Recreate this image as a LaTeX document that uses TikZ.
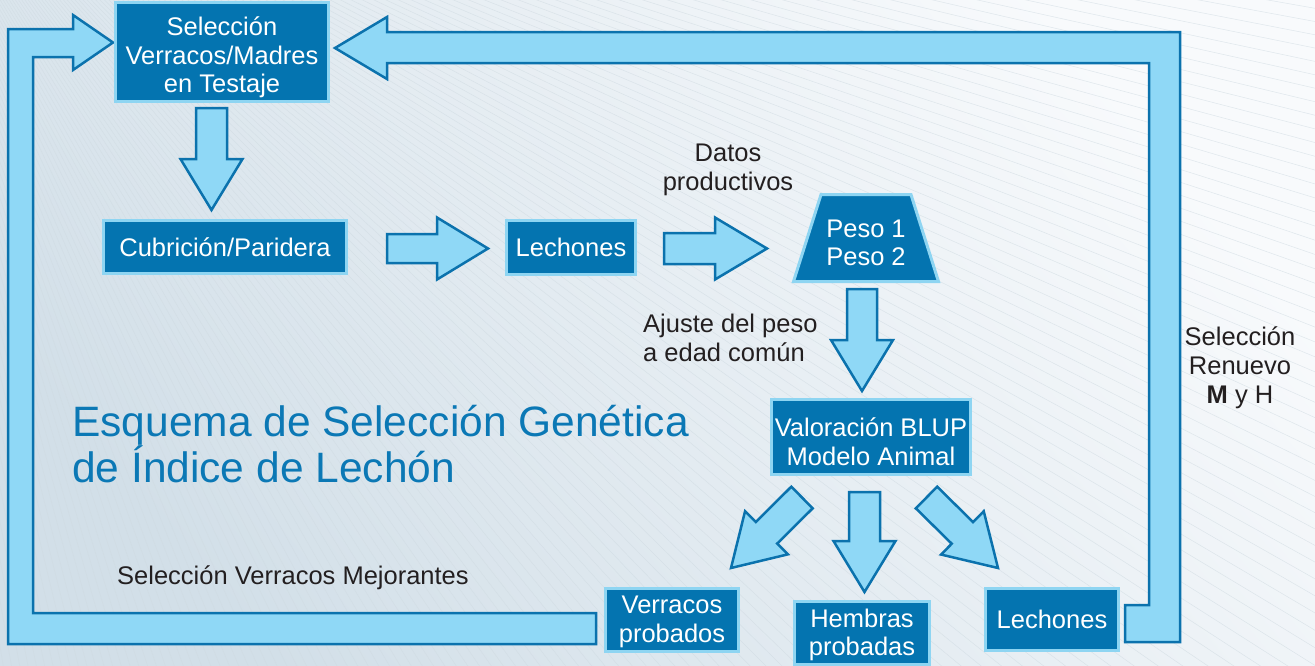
\documentclass[tikz,border=0pt]{standalone}
\usepackage{fontspec}
\setmainfont{Liberation Sans}
\usetikzlibrary{calc,shapes.geometric}
\definecolor{boxblue}{HTML}{0474B0}
\definecolor{boxedge}{HTML}{8ED5F2}
\definecolor{arrfill}{HTML}{8FD8F6}
\definecolor{arrline}{HTML}{0B72AD}
\definecolor{titleblue}{HTML}{0B78B5}
\definecolor{labeltext}{HTML}{231F20}
\definecolor{bgdark}{HTML}{D2DFE8}
\definecolor{bglight}{HTML}{F8FAFC}
\definecolor{fanline}{HTML}{CFDAE1}
\newcommand{\blockarr}[5]{%
  \coordinate (bh) at ($(#2)!#5!(#1)$);
  \draw[barrow] ($(#1)!#3!90:(#2)$) -- ($(bh)!#3!90:(#2)$) -- ($(bh)!#4!90:(#2)$)
    -- (#2) -- ($(bh)!#4!-90:(#2)$) -- ($(bh)!#3!-90:(#2)$) -- ($(#1)!#3!-90:(#2)$) -- cycle;}
% #1 = extra height added on top (twice the downward shift of the text)
\newcommand{\mlines}[2]{\raisebox{0pt}[\dimexpr\height+#1\relax][\depth]{\begin{tabular}{@{}c@{}}#2\end{tabular}}}
\tikzset{
  box/.style={draw=boxedge, line width=3pt, fill=boxblue, text=white, align=center,
    inner sep=0pt, font=\fontsize{25.5}{28.5}\selectfont},
  barrow/.style={draw=arrline, line width=2.5pt, fill=arrfill, line join=miter},
  label/.style={text=labeltext, inner sep=0pt, font=\fontsize{25.5}{29}\selectfont},
}
\begin{document}
\begin{tikzpicture}[x=1pt,y=-1pt]
\useasboundingbox (0,0) rectangle (1315,665);
% background
\shade[shading=axis, bottom color=bgdark, top color=bglight, shading angle=-50] (0,0) rectangle (1315,665);
\begin{scope}
\clip (0,0) rectangle (1315,665);
\foreach \a in {1,1.5,...,89} \draw[fanline, line width=0.5pt, opacity=0.6] (-150,-250) -- ++(\a:2400);
\end{scope}
% loops
\draw[barrow] (596,613) -- (596,644) -- (8,644) -- (8,29) -- (73,29) -- (73,15) -- (113,42.5)
  -- (73,70) -- (73,57) -- (33,57) -- (33,613) -- cycle;
\draw[barrow] (1125,605) -- (1149,605) -- (1149,63) -- (387,63) -- (387,79) -- (335,48)
  -- (387,17) -- (387,32) -- (1180,32) -- (1180,642) -- (1125,642) -- cycle;
% nodes
\node[box, minimum width=213, minimum height=91] (sel) at (222,52) {\mlines{13pt}{Selección\\Verracos/Madres\\en Testaje}};
\node[box, minimum width=243, minimum height=53] (cub) at (225,247) {Cubrición/Paridera};
\node[box, minimum width=129, minimum height=54] (lech1) at (571,247.5) {Lechones};
\node[box, trapezium, trapezium stretches=true, trapezium left angle=71.6, trapezium right angle=71.6,
  minimum width=145, minimum height=87] (peso) at (866,238) {\mlines{16pt}{Peso 1\\Peso 2}};
\node[box, minimum width=199, minimum height=75] (blup) at (871,437) {\mlines{17pt}{Valoración BLUP\\Modelo Animal}};
\node[box, minimum width=133, minimum height=62] (verr) at (672,619.5) {\mlines{6pt}{Verracos\\probados}};
\node[box, minimum width=135, minimum height=60] (hemb) at (862,633) {\mlines{6pt}{Hembras\\probadas}};
\node[box, minimum width=133, minimum height=62] (lech2) at (1052,619.5) {Lechones};
% labels
\node[label, align=center] (datos) at (728,170) {Datos\\productivos};
\node[label, align=left, anchor=west] (ajuste) at (643,338) {Ajuste del peso\\a edad común};
\node[label, align=center] (renuevo) at (1240,368) {Selección\\Renuevo\\\textbf{M} y H};
\node[label, anchor=west] (mejor) at (117,578) {Selección Verracos Mejorantes};
\node[text=titleblue, align=left, anchor=west, inner sep=0pt, font=\fontsize{42.5}{46}\selectfont] (title) at (72,444)
  {Esquema de Selección Genética\\de Índice de Lechón};
% block arrows between nodes
\coordinate (a1t) at (211.5,108); \coordinate (a1h) at (211.5,210);
\coordinate (a2t) at (387,248.5); \coordinate (a2h) at (488,248.5);
\coordinate (a3t) at (664,248.5); \coordinate (a3h) at (767,248.5);
\coordinate (a4t) at (862,289);   \coordinate (a4h) at (862,391);
\coordinate (a5t) at (864.5,492); \coordinate (a5h) at (864.5,592);
\coordinate (a6t) at (802,497.5); \coordinate (a6h) at (731,568);
\coordinate (a7t) at (926.5,497.5); \coordinate (a7h) at (998,568);
\blockarr{a1t}{a1h}{15.5pt}{31pt}{51pt}
\blockarr{a2t}{a2h}{14.5pt}{31pt}{51pt}
\blockarr{a3t}{a3h}{15.5pt}{31pt}{52pt}
\blockarr{a4t}{a4h}{15pt}{31pt}{51pt}
\blockarr{a5t}{a5h}{15.5pt}{31pt}{51pt}
\blockarr{a6t}{a6h}{15.2pt}{30.4pt}{50pt}
\blockarr{a7t}{a7h}{15.2pt}{30.4pt}{50pt}
\end{tikzpicture}
\end{document}
